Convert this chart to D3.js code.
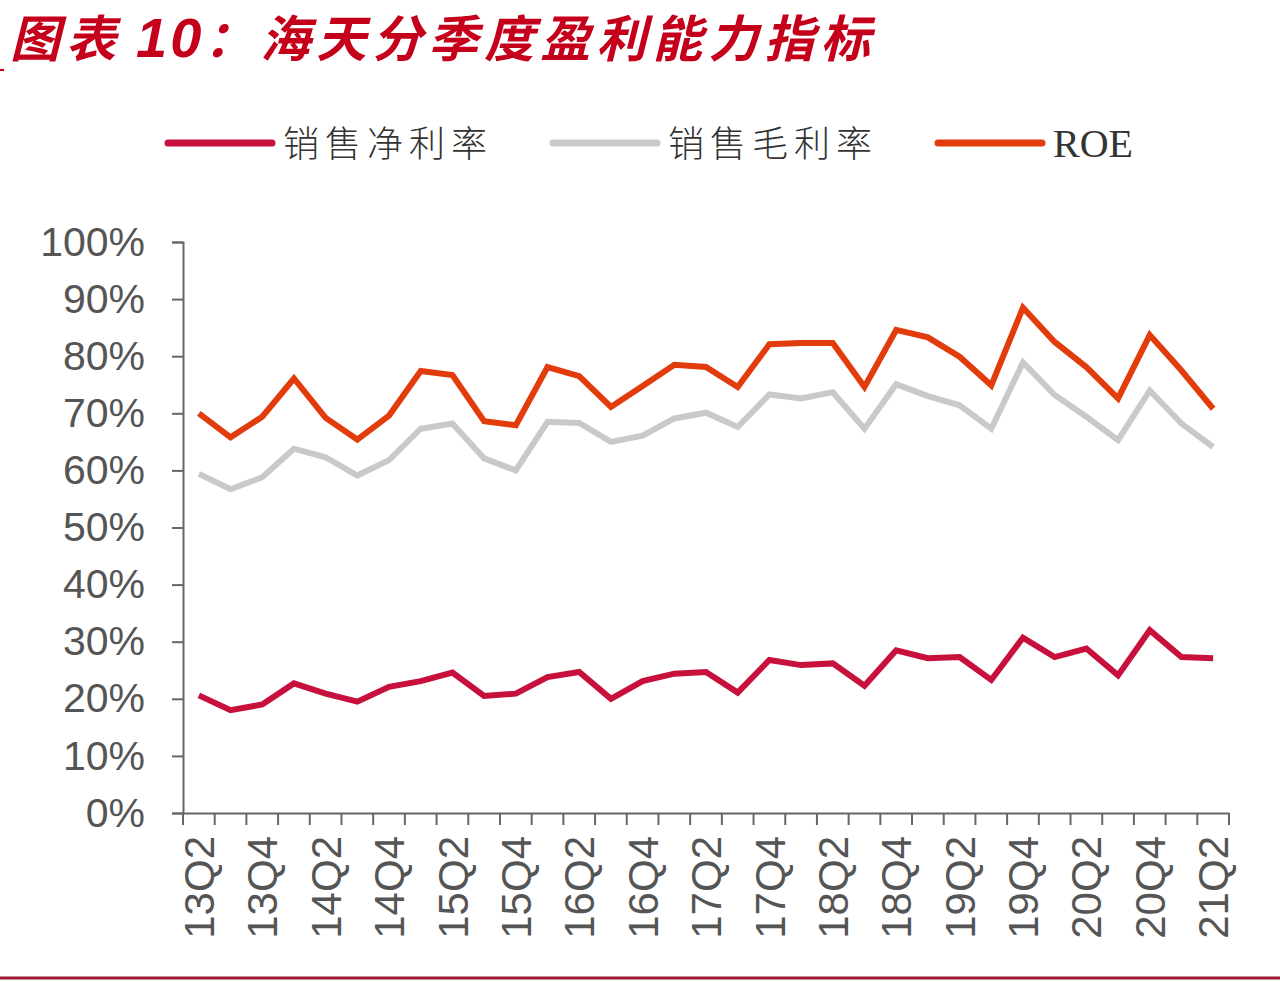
<!DOCTYPE html>
<html>
<head>
<meta charset="utf-8">
<script src="https://cdn.jsdelivr.net/npm/d3@7"></script>
<style>
  body { margin: 0; background: #ffffff; }
  svg { display: block; }
</style>
</head>
<body>
<div id="chart"></div>
<script>
// quarters 13Q2 .. 21Q2
let quarters = ["13Q2","13Q3","13Q4","14Q1","14Q2","14Q3","14Q4","15Q1","15Q2","15Q3","15Q4",
    "16Q1","16Q2","16Q3","16Q4","17Q1","17Q2","17Q3","17Q4","18Q1","18Q2","18Q3","18Q4",
    "19Q1","19Q2","19Q3","19Q4","20Q1","20Q2","20Q3","20Q4","21Q1","21Q2"];

// 销售净利率 (%)
let netMargin = [20.6,18.0,19.0,22.7,20.9,19.5,22.1,23.1,24.6,20.5,20.9,
    23.8,24.7,20.0,23.1,24.4,24.7,21.1,26.8,25.9,26.2,22.3,28.5,
    27.1,27.3,23.3,30.7,27.3,28.8,24.1,32.0,27.3,27.1];

// 销售毛利率 (%)
let grossMargin = [59.4,56.7,58.8,63.8,62.3,59.1,61.8,67.3,68.2,62.1,60.0,
    68.5,68.3,65.0,66.1,69.1,70.1,67.6,73.3,72.6,73.7,67.3,75.1,
    73.0,71.4,67.3,78.9,73.2,69.4,65.3,74.0,68.2,64.1];

// ROE (%)
let roe = [70.0,65.8,69.4,76.1,69.2,65.4,69.6,77.4,76.7,68.6,67.9,
    78.1,76.5,71.1,74.8,78.5,78.1,74.6,82.1,82.3,82.3,74.6,84.6,
    83.3,79.9,74.9,88.5,82.5,78.1,72.6,83.7,77.5,70.8];

let yTicks = [0,10,20,30,40,50,60,70,80,90,100];

let seriesNames = ["销售净利率", "销售毛利率", "ROE"];
let seriesColors = ["#c8103c", "#c9c9c9", "#e23c0c"];

function main(){
    let width = 1280;
    let height = 982;

    let svg = d3.select("#chart").append("svg")
        .attr("width", width)
        .attr("height", height);

    svg.append("rect")
        .attr("width", width)
        .attr("height", height)
        .attr("fill", "#ffffff");

    // title
    let title = svg.append("text")
        .attr("x", 10)
        .attr("y", 57)
        .attr("font-family", "'Noto Sans CJK SC', sans-serif")
        .attr("font-size", 50)
        .attr("font-weight", "bold")
        .attr("font-style", "italic")
        .attr("letter-spacing", 6)
        .attr("fill", "#c4001a");
    title.append("tspan").text("图表");
    title.append("tspan")
        .attr("font-family", "'Liberation Sans', Arial, sans-serif")
        .attr("font-size", 56)
        .attr("letter-spacing", 3)
        .attr("dx", 14)
        .text("10");
    title.append("tspan").text("：海天分季度盈利能力指标");

    svg.append("line")
        .attr("x1", 0).attr("x2", 4)
        .attr("y1", 70).attr("y2", 70)
        .attr("stroke", "#c4001a")
        .attr("stroke-width", 2);

    // bottom rule
    svg.append("line")
        .attr("x1", 0).attr("x2", width)
        .attr("y1", 978).attr("y2", 978)
        .attr("stroke", "#9e1b32")
        .attr("stroke-width", 3);

    let xScale = d3.scaleBand().domain(quarters).range([183, 1229]);
    let yScale = d3.scaleLinear().domain([0, 100]).range([813, 242]);

    // y axis
    let yAxis = svg.append("g")
        .attr("transform", "translate(183, 0)")
        .call(d3.axisLeft(yScale).tickValues(yTicks).tickSize(11).tickPadding(27)
            .tickFormat(d => d + "%"));
    yAxis.select(".domain").attr("stroke", "#666").attr("stroke-width", 2);
    yAxis.selectAll(".tick line").attr("stroke", "#666").attr("stroke-width", 2);
    yAxis.selectAll(".tick text")
        .attr("font-family", "'Liberation Sans', Arial, sans-serif")
        .attr("font-size", 41)
        .attr("fill", "#555");

    // x axis line
    let xAxis = svg.append("g")
        .attr("transform", "translate(0, 813)")
        .call(d3.axisBottom(xScale).tickSize(0).tickFormat(""));
    xAxis.select(".domain").attr("stroke", "#666").attr("stroke-width", 2);

    // x ticks at band boundaries
    let bounds = quarters.map(q => xScale(q)).concat([xScale(quarters[quarters.length - 1]) + xScale.step()]);
    xAxis.selectAll(".bound")
        .data(bounds)
        .enter()
        .append("line")
        .attr("class", "bound")
        .attr("x1", d => d).attr("x2", d => d)
        .attr("y1", 0).attr("y2", 12)
        .attr("stroke", "#666")
        .attr("stroke-width", 2);

    // x labels, every other quarter
    svg.append("g")
        .selectAll("text")
        .data(quarters.filter((q, i) => i % 2 === 0))
        .enter()
        .append("text")
        .attr("transform", d => "translate(" + (xScale(d) + xScale.bandwidth() / 2) + ", 836) rotate(-90)")
        .attr("dy", "0.36em")
        .attr("text-anchor", "end")
        .attr("font-family", "'Liberation Sans', Arial, sans-serif")
        .attr("font-size", 42)
        .attr("fill", "#555")
        .text(d => d);

    // lines
    let line = d3.line()
        .x((d, i) => xScale(quarters[i]) + xScale.bandwidth() / 2)
        .y(d => yScale(d));

    let drawOrder = [
        {values: grossMargin, color: seriesColors[1]},
        {values: roe, color: seriesColors[2]},
        {values: netMargin, color: seriesColors[0]}
    ];

    svg.append("g")
        .selectAll("path")
        .data(drawOrder)
        .enter()
        .append("path")
        .attr("d", d => line(d.values))
        .attr("fill", "none")
        .attr("stroke", d => d.color)
        .attr("stroke-width", 6)
        .attr("stroke-linejoin", "miter");

    // legend
    let legendX = [168, 553, 938];
    let legend = svg.append("g")
        .selectAll("g")
        .data(seriesNames)
        .enter()
        .append("g")
        .attr("transform", (d, i) => "translate(" + legendX[i] + ", 143)");

    legend.append("line")
        .attr("x1", 0).attr("x2", 104)
        .attr("y1", 0).attr("y2", 0)
        .attr("stroke", (d, i) => seriesColors[i])
        .attr("stroke-width", 7)
        .attr("stroke-linecap", "round");

    legend.append("text")
        .attr("x", 115)
        .attr("y", 14)
        .attr("font-family", d => d === "ROE" ? "'Liberation Serif', serif" : "'Noto Sans CJK SC', sans-serif")
        .attr("font-weight", d => d === "ROE" ? "normal" : 300)
        .attr("font-size", d => d === "ROE" ? 40 : 36)
        .attr("letter-spacing", d => d === "ROE" ? 0 : 6)
        .attr("fill", "#333")
        .text(d => d);
}

main();
</script>
</body>
</html>
